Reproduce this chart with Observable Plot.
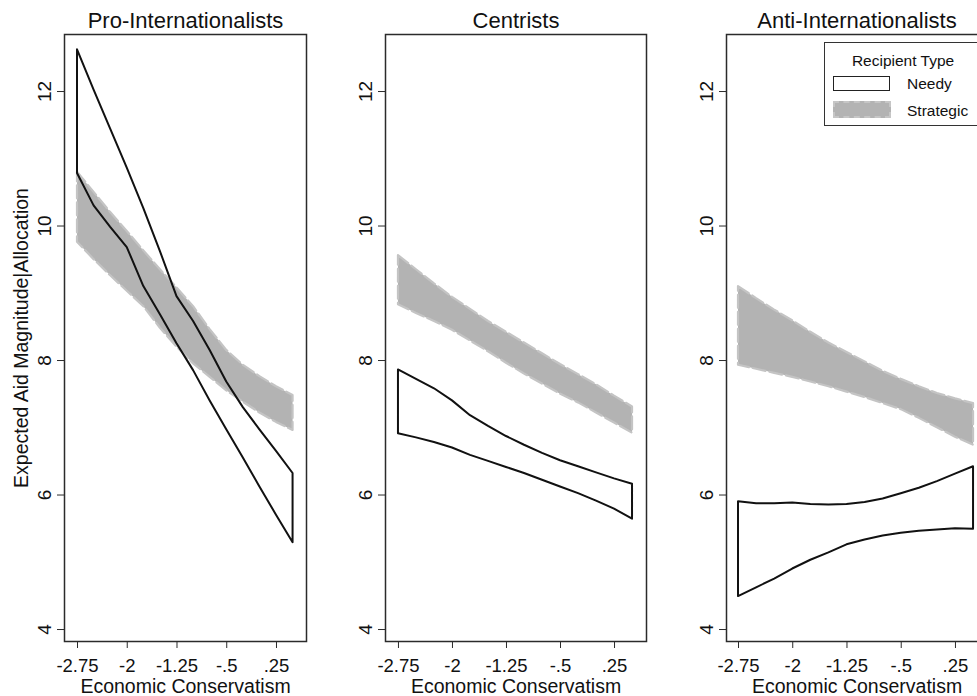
<!DOCTYPE html>
<html>
<head>
<meta charset="utf-8">
<script src="https://cdn.jsdelivr.net/npm/d3@7"></script>
<script src="https://cdn.jsdelivr.net/npm/@observablehq/plot@0.6"></script>
<style>
  html, body { margin: 0; padding: 0; background: #fff; overflow: hidden; }
  #wrap { position: relative; width: 977px; height: 696px; overflow: hidden; background: #fff;
          font-family: Arial, "Liberation Sans", sans-serif; }
  .panel { position: absolute; top: 0; }
  .panel svg { overflow: visible; max-width: none !important; }
  #legend { position: absolute; left: 824px; top: 42px; width: 200px; height: 84px;
            border: 1.5px solid #333; background: #fff; box-sizing: border-box; }
  .lg { position: absolute; font-size: 15.5px; color: #111; line-height: 1; white-space: nowrap; }
  .key { position: absolute; box-sizing: border-box; }
</style>
</head>
<body>
<div id="wrap"></div>
<script>
// ---------- data ----------
const xGrid = [-2.75, -2.5, -2.25, -2, -1.75, -1.5, -1.25, -1, -0.75, -0.5, -0.25, 0, 0.25, 0.5];

const groups = ["Pro-Internationalists", "Centrists", "Anti-Internationalists"];
const recipientTypes = ["Needy", "Strategic"];

// Pro-Internationalists
const proNeedyHi = [12.62, 12.02, 11.44, 10.86, 10.26, 9.62, 8.95, 8.58, 8.15, 7.68, 7.30, 6.97, 6.65, 6.32];
const proNeedyLo = [10.78, 10.30, 9.98, 9.68, 9.10, 8.68, 8.25, 7.85, 7.40, 6.97, 6.55, 6.12, 5.70, 5.29];
const proStratHi = [10.80, 10.50, 10.20, 9.92, 9.63, 9.35, 9.08, 8.80, 8.46, 8.15, 7.93, 7.76, 7.61, 7.48];
const proStratLo = [9.76, 9.50, 9.26, 9.03, 8.80, 8.48, 8.20, 7.95, 7.75, 7.55, 7.38, 7.22, 7.08, 6.96];

// Centrists
const cenNeedyHi = [7.86, 7.72, 7.58, 7.40, 7.18, 7.02, 6.87, 6.74, 6.62, 6.51, 6.42, 6.33, 6.24, 6.16];
const cenNeedyLo = [6.91, 6.85, 6.78, 6.70, 6.59, 6.50, 6.41, 6.32, 6.22, 6.12, 6.02, 5.91, 5.79, 5.64];
const cenStratHi = [9.56, 9.35, 9.14, 8.94, 8.76, 8.58, 8.42, 8.26, 8.10, 7.94, 7.79, 7.64, 7.47, 7.31];
const cenStratLo = [8.83, 8.70, 8.58, 8.45, 8.29, 8.13, 7.96, 7.80, 7.65, 7.50, 7.37, 7.22, 7.07, 6.92];

// Anti-Internationalists
const antiNeedyHi = [5.90, 5.87, 5.87, 5.88, 5.86, 5.85, 5.86, 5.89, 5.94, 6.02, 6.10, 6.20, 6.31, 6.42];
const antiNeedyLo = [4.49, 4.62, 4.75, 4.90, 5.03, 5.14, 5.26, 5.33, 5.39, 5.43, 5.46, 5.48, 5.50, 5.49];
const antiStratHi = [9.10, 8.92, 8.75, 8.59, 8.42, 8.26, 8.12, 7.98, 7.84, 7.72, 7.61, 7.51, 7.43, 7.36];
const antiStratLo = [7.93, 7.87, 7.81, 7.75, 7.68, 7.61, 7.53, 7.45, 7.36, 7.27, 7.14, 7.00, 6.86, 6.74];

const xTicks = [-2.75, -2, -1.25, -0.5, 0.25];
const xTickLabels = ["-2.75", "-2", "-1.25", "-.5", ".25"];
const yTicks = [4, 6, 8, 10, 12];
const xTitle = "Economic Conservatism";
const yTitle = "Expected Aid Magnitude|Allocation";
const legendTitle = "Recipient Type";

// ---------- build ----------
const series = [
  [proNeedyLo, proNeedyHi, proStratLo, proStratHi],
  [cenNeedyLo, cenNeedyHi, cenStratLo, cenStratHi],
  [antiNeedyLo, antiNeedyHi, antiStratLo, antiStratHi]
];

const layout = [
  {left: 0,   width: 320, ml: 64, mr: 14, xd: [-2.946, 0.7025]},
  {left: 320, width: 340, ml: 65, mr: 14, xd: [-2.93, 0.694]},
  {left: 660, width: 341, ml: 66, mr: 14, xd: [-2.916, 0.693]}
];

const FONT = 'Arial, "Liberation Sans", sans-serif';
const wrap = document.getElementById("wrap");

groups.forEach((g, i) => {
  const [nLo, nHi, sLo, sHi] = series[i];
  const rows = xGrid.map((x, j) => ({x, nLo: nLo[j], nHi: nHi[j], sLo: sLo[j], sHi: sHi[j]}));
  const L = layout[i];
  const marks = [
    Plot.areaY(rows, {x: "x", y1: "sLo", y2: "sHi", fill: "#b3b3b3", stroke: "#c4c4c4",
                      strokeWidth: 2.2, strokeDasharray: "13,4", curve: "linear"}),
    Plot.areaY(rows, {x: "x", y1: "nLo", y2: "nHi", fill: "none", stroke: "#111",
                      strokeWidth: 2, curve: "linear"}),
    Plot.frame({stroke: "#2b2b2b", strokeWidth: 1.5}),
    Plot.axisX(xTicks, {tickSize: 7, tickPadding: 10, fontSize: 18.5, stroke: "#2b2b2b", color: "#111",
                        tickFormat: d => xTickLabels[xTicks.indexOf(d)], label: null}),
    Plot.axisY(yTicks, {tickSize: 7, tickPadding: 7, tickRotate: -90, fontSize: 19, stroke: "#2b2b2b",
                        color: "#111", tickFormat: d => String(d), label: null}),
    Plot.text([g], {frameAnchor: "top", lineAnchor: "middle", dy: -14, fontSize: 22, fill: "#111"}),
    Plot.text([xTitle], {frameAnchor: "bottom", lineAnchor: "top", dy: 38, fontSize: 19.5, fill: "#111"})
  ];
  if (i === 0) {
    marks.push(Plot.text([yTitle], {frameAnchor: "left", textAnchor: "middle", lineAnchor: "middle",
                                    rotate: -90, dx: -43, fontSize: 19.5, fill: "#111"}));
  }
  const chart = Plot.plot({
    width: L.width, height: 696,
    marginLeft: L.ml, marginRight: L.mr, marginTop: 34, marginBottom: 55,
    x: {domain: L.xd, label: null},
    y: {domain: [3.822, 12.848], label: null},
    style: {fontFamily: FONT, background: "transparent", overflow: "visible", maxWidth: "none"},
    marks
  });
  const div = document.createElement("div");
  div.className = "panel";
  div.style.left = L.left + "px";
  div.style.width = L.width + "px";
  div.appendChild(chart);
  wrap.appendChild(div);
});

// ---------- legend ----------
const lg = document.createElement("div");
lg.id = "legend";
lg.innerHTML = `
  <div class="lg" style="left:78px;top:10px;transform:translateX(-50%);">${legendTitle}</div>
  <div class="key" style="left:8px;top:33px;width:57px;height:15px;border:1.5px solid #222;background:#fff;"></div>
  <div class="lg" style="left:82px;top:33px;">${recipientTypes[0]}</div>
  <div class="key" style="left:8px;top:58px;width:58px;height:17px;background:#b3b3b3;border:2px dashed #c6c6c6;"></div>
  <div class="lg" style="left:82px;top:60px;">${recipientTypes[1]}</div>
`;
wrap.appendChild(lg);
</script>
</body>
</html>
